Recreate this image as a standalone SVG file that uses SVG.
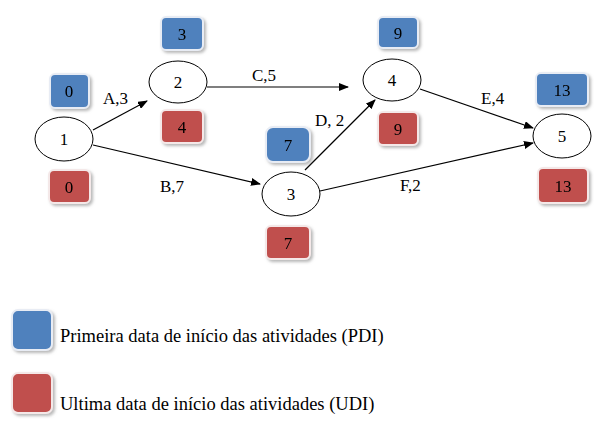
<svg xmlns="http://www.w3.org/2000/svg" width="610" height="424" viewBox="0 0 610 424">
<style>
text{font-family:"Liberation Serif",serif;font-size:17px;fill:#000}
.n{fill:#fff;stroke:#000;stroke-width:1}
.b{fill:#4f81bd;stroke:#e8ecf4;stroke-width:2}
.r{fill:#c0504d;stroke:#f4e8e8;stroke-width:2}
.c{stroke:#000;stroke-width:1.2;fill:none;marker-end:url(#ah)}
.m{text-anchor:middle}
.lg{font-size:18.5px}
</style>
<defs>
<marker id="ah" markerWidth="10" markerHeight="8" refX="9" refY="4" orient="auto" markerUnits="userSpaceOnUse"><path d="M0,0L10,4L0,8z" fill="#000"/></marker>
<filter id="sh"><feDropShadow dx="2" dy="2" stdDeviation="1.5" flood-color="#888" flood-opacity="0.6"/></filter>
</defs>
<g id="connectors">
<path class="c" d="M93,130L147,101"/>
<path class="c" d="M207,87L348,87"/>
<path class="c" d="M93,145L260,184"/>
<path class="c" d="M305,170L375,100"/>
<path class="c" d="M420,89L533,128"/>
<path class="c" d="M320,191L533,143"/>
<text x="103" y="104">A,3</text>
<text x="252" y="81">C,5</text>
<text x="160" y="192">B,7</text>
<text x="315" y="126">D, 2</text>
<text x="481" y="104">E,4</text>
<text x="400" y="191">F,2</text>
</g>
<g id="node1"><ellipse class="n" cx="64" cy="139" rx="29" ry="22"/><text class="m" x="64" y="145">1</text></g>
<g id="node2"><ellipse class="n" cx="178" cy="82" rx="29" ry="21"/><text class="m" x="178" y="88">2</text></g>
<g id="node3"><ellipse class="n" cx="291" cy="194" rx="29" ry="22"/><text class="m" x="291" y="200">3</text></g>
<g id="node4"><ellipse class="n" cx="392" cy="80" rx="29" ry="21"/><text class="m" x="392" y="86">4</text></g>
<g id="node5"><ellipse class="n" cx="562" cy="136" rx="29" ry="22"/><text class="m" x="562" y="142">5</text></g>
<g id="boxes" filter="url(#sh)">
<g id="b1"><rect class="b" x="50" y="74" width="39" height="34" rx="5"/><text class="m" x="69" y="97">0</text></g>
<g id="r1"><rect class="r" x="49" y="170" width="41" height="33" rx="5"/><text class="m" x="69" y="193">0</text></g>
<g id="b2"><rect class="b" x="161" y="17" width="42" height="33" rx="5"/><text class="m" x="182" y="40">3</text></g>
<g id="r2"><rect class="r" x="161" y="110" width="42" height="33" rx="5"/><text class="m" x="182" y="133">4</text></g>
<g id="b3"><rect class="b" x="266" y="127" width="44" height="35" rx="7"/><text class="m" x="288" y="151">7</text></g>
<g id="r3"><rect class="r" x="266" y="226" width="44" height="33" rx="5"/><text class="m" x="288" y="249">7</text></g>
<g id="b4"><rect class="b" x="378" y="17" width="40" height="31" rx="5"/><text class="m" x="398" y="39">9</text></g>
<g id="r4"><rect class="r" x="378" y="112" width="40" height="33" rx="5"/><text class="m" x="398" y="135">9</text></g>
<g id="b5"><rect class="b" x="536" y="73" width="52" height="33" rx="5"/><text class="m" x="562" y="96">13</text></g>
<g id="r5"><rect class="r" x="538" y="168" width="50" height="35" rx="5"/><text class="m" x="563" y="192">13</text></g>
<g id="lb"><rect class="b" x="12" y="310" width="40" height="40" rx="6"/></g>
<g id="lr"><rect class="r" x="12" y="373" width="40" height="40" rx="6"/></g>
</g>
<g id="legend">
<text class="lg" x="60" y="342">Primeira data de início das atividades (PDI)</text>
<text class="lg" x="60" y="410">Ultima data de início das atividades (UDI)</text>
</g>
</svg>
